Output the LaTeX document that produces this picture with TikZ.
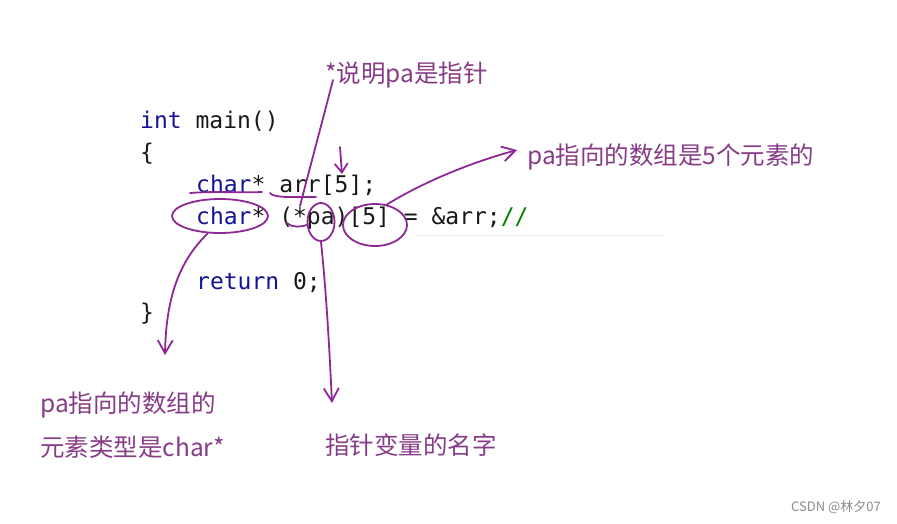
\documentclass[tikz,border=0pt]{standalone}
\usepackage{fontspec}
\newfontfamily\cjk{Noto Sans CJK SC}
\newfontfamily\codefont{DejaVu Sans Mono}
\usetikzlibrary{arrows.meta,shapes.geometric,calc}
\definecolor{kw}{RGB}{20,20,150}
\definecolor{purp}{RGB}{142,40,148}
\definecolor{ptext}{RGB}{135,60,135}
\definecolor{cmt}{RGB}{0,128,0}
\begin{document}
\begin{tikzpicture}[x=1pt,y=-1pt,
 code/.style={anchor=base west, inner sep=0pt, font=\codefont\fontsize{23}{23}\selectfont, text=black!90},
 note/.style={anchor=west, inner sep=0pt, font=\cjk\fontsize{24.5}{24.5}\selectfont, text=ptext},
 pen/.style={draw=purp, line width=1.8pt, line cap=round, line join=round},
 ring/.style={pen, ellipse, inner sep=0pt},
 harrow/.style={pen, -{Straight Barb[length=13pt,width=15pt,line width=1.8pt]}},
 sarrow/.style={pen, -{Straight Barb[length=9pt,width=13pt,line width=1.8pt]}}]
\useasboundingbox (0,0) rectangle (897,523);
\fill[white] (0,0) rectangle (897,523);
% faint artifact line
\draw[black!7, line width=0.8pt] (415,235) -- (665,235);
% code
\node[code] (l1) at (140,128) {{\color{kw}int} main()};
\node[code] (l2) at (140,160) {\{};
\node[code] (l3) at (196,192) {{\color{kw}char}* arr[5];};
\node[code] (l4) at (196,224) {{\color{kw}char}* (*pa)[5] = \&arr;{\color{cmt}//}};
\node[code] (l5) at (196,289) {{\color{kw}return} 0;};
\node[code] (l6) at (140,320) {\}};
% notes
\node[note] (n1) at (325,75) {*说明pa是指针};
\node[note] (n2) at (527,157) {pa指向的数组是5个元素的};
\node[note] (n3) at (40,405) {pa指向的数组的};
\node[note] (n4) at (40,447) {元素类型是char*};
\node[note] (n5) at (325,445) {指针变量的名字};
\node[anchor=east, inner sep=0pt, font=\cjk\fontsize{13}{13}\selectfont, text=black!45] (wm) at (881,507) {CSDN @林夕07};
% rings
\node[ring, minimum width=96pt, minimum height=34pt] (ech) at (220,216) {};
\node[ring, minimum width=27pt, minimum height=38pt] (epa) at (321,222) {};
\node[ring, minimum width=64pt, minimum height=42pt] (e5) at (375,225) {};
% free ends
\coordinate (c1) at (300,206);
\coordinate (tip1) at (165,355);
\coordinate (tip2) at (332,403);
\coordinate (s1) at (340,147);
\coordinate (s2) at (342,174);
% marks
\draw[pen] (190,193) .. controls (215,191) and (240,193) .. (262,192);
\draw[pen] (270,193) .. controls (274,198) and (290,197) .. (316,197);
\draw[pen] (287,223) .. controls (293,228) and (300,227) .. (307,225);
% connectors
\draw[pen] ($(n1.west)+(8,5)$) .. controls (320,130) and (308,175) .. (c1);
\draw[sarrow] (s1) -- (s2);
\draw[harrow] (e5.60) .. controls (430,178) and (480,160) .. ($(n2.west)+(-10,-7)$);
\draw[harrow] (ech.235) .. controls (178,262) and (166,300) .. (tip1);
\draw[harrow] (epa.south) .. controls (326,290) and (329,340) .. (tip2);
\end{tikzpicture}
\end{document}
